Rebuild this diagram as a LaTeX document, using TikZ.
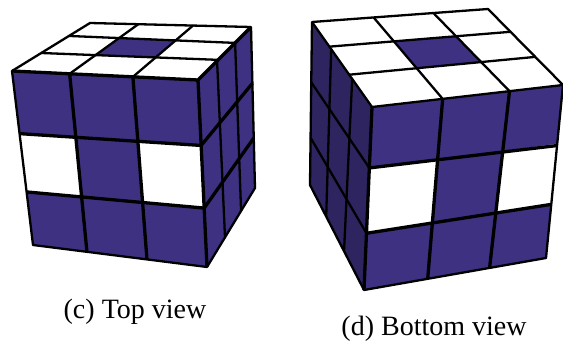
\documentclass[tikz,border=0pt]{standalone}
\usepackage{fontspec}
\setmainfont{Liberation Serif}
\usepackage{xcolor}
\usepackage{tikz}
\usetikzlibrary{calc}

\definecolor{sticker}{HTML}{3F3181}
\definecolor{stickerdark}{HTML}{2E2560}

% colour, corners A B C D, then u0 u1 v0 v1 of one cell
\newcommand{\facecell}[9]{%
  \fill[#1] ($($(#2)!#6!(#3)$)!#8!($(#5)!#6!(#4)$)$)
    -- ($($(#2)!#7!(#3)$)!#8!($(#5)!#7!(#4)$)$)
    -- ($($(#2)!#7!(#3)$)!#9!($(#5)!#7!(#4)$)$)
    -- ($($(#2)!#6!(#3)$)!#9!($(#5)!#6!(#4)$)$) -- cycle;}

\begin{document}
\begin{tikzpicture}[
  x=1pt, y=-1pt,
  outline/.style={draw=black, line width=2.3pt, line join=round},
  seam/.style={draw=black, line width=3.3pt},
  caption/.style={font=\fontsize{28}{30}\selectfont, inner sep=0pt},
]
  \useasboundingbox (0,0) rectangle (563,342);

  % left cube
  \coordinate (cA) at (90,23);
  \coordinate (cB) at (251,27);
  \coordinate (cC) at (198,80);
  \coordinate (cD) at (12,71);
  \coordinate (cE) at (33,245);
  \coordinate (cF) at (207,267);
  \coordinate (cG) at (255,188);

  \fill[white] (cA) -- (cB) -- (cC) -- (cD) -- cycle;
  \facecell{sticker}{cA}{cB}{cC}{cD}{.305}{.645}{.285}{.62}
  \fill[sticker] (cD) -- (cC) -- (cF) -- (cE) -- cycle;
  \facecell{white}{cD}{cC}{cF}{cE}{0}{.31}{.355}{.69}
  \facecell{white}{cD}{cC}{cF}{cE}{.65}{1}{.355}{.69}
  \fill[sticker] (cC) -- (cB) -- (cG) -- (cF) -- cycle;

  \foreach \ua/\ub in {.30/.31, .64/.65} \draw[outline] ($(cA)!\ua!(cB)$) -- ($(cD)!\ub!(cC)$);
  \foreach \ua/\ub in {.27/.30, .625/.62} \draw[outline] ($(cA)!\ua!(cD)$) -- ($(cB)!\ub!(cC)$);
  \foreach \ua/\ub in {.31/.31, .65/.655} \draw[seam] ($(cD)!\ua!(cC)$) -- ($(cE)!\ub!(cF)$);
  \foreach \ua/\ub in {.36/.35, .695/.685} \draw[seam] ($(cD)!\ua!(cE)$) -- ($(cC)!\ub!(cF)$);
  \foreach \ua/\ub in {.36/.375, .70/.71} \draw[outline] ($(cC)!\ua!(cB)$) -- ($(cF)!\ub!(cG)$);
  \foreach \ua/\ub in {.35/.35, .685/.69} \draw[seam] ($(cC)!\ua!(cF)$) -- ($(cB)!\ub!(cG)$);
  \draw[outline] (cA) -- (cB) -- (cG) -- (cF) -- (cE) -- (cD) -- cycle;
  \draw[seam] (cD) -- (cC) -- (cB);
  \draw[seam] (cC) -- (cF);

  % right cube
  \coordinate (dA) at (312,22);
  \coordinate (dB) at (488,9);
  \coordinate (dC) at (563,85);
  \coordinate (dD) at (372,107);
  \coordinate (dE) at (364,290);
  \coordinate (dF) at (546,258);
  \coordinate (dG) at (310,185);

  \fill[white] (dA) -- (dB) -- (dC) -- (dD) -- cycle;
  \facecell{sticker}{dA}{dB}{dC}{dD}{.36}{.705}{.295}{.625}
  \fill[sticker] (dD) -- (dC) -- (dF) -- (dE) -- cycle;
  \facecell{white}{dD}{dC}{dF}{dE}{0}{.36}{.34}{.69}
  \facecell{white}{dD}{dC}{dF}{dE}{.705}{1}{.34}{.69}
  \fill[stickerdark] (dA) -- (dD) -- (dE) -- (dG) -- cycle;

  \foreach \ua/\ub in {.35/.37, .69/.72} \draw[outline] ($(dA)!\ua!(dB)$) -- ($(dD)!\ub!(dC)$);
  \foreach \ua/\ub in {.29/.30, .62/.63} \draw[outline] ($(dA)!\ua!(dD)$) -- ($(dB)!\ub!(dC)$);
  \foreach \ua/\ub in {.37/.35, .72/.69} \draw[seam] ($(dD)!\ua!(dC)$) -- ($(dE)!\ub!(dF)$);
  \foreach \ua/\ub in {.333/.35, .69/.69} \draw[seam] ($(dD)!\ua!(dE)$) -- ($(dC)!\ub!(dF)$);
  \foreach \ua/\ub in {.32/.30, .67/.63} \draw[outline] ($(dA)!\ua!(dD)$) -- ($(dG)!\ub!(dE)$);
  \foreach \ua/\ub in {.37/.333, .71/.69} \draw[outline] ($(dA)!\ua!(dG)$) -- ($(dD)!\ub!(dE)$);
  \draw[outline] (dA) -- (dB) -- (dC) -- (dF) -- (dE) -- (dG) -- cycle;
  \draw[outline] (dA) -- (dD) -- (dC);
  \draw[seam] (dD) -- (dE);

  \node[caption, anchor=base] (topview) at (135,319) {(c) Top view};
  \node[caption, anchor=base] (bottomview) at (434,335) {(d) Bottom view};
\end{tikzpicture}
\end{document}
